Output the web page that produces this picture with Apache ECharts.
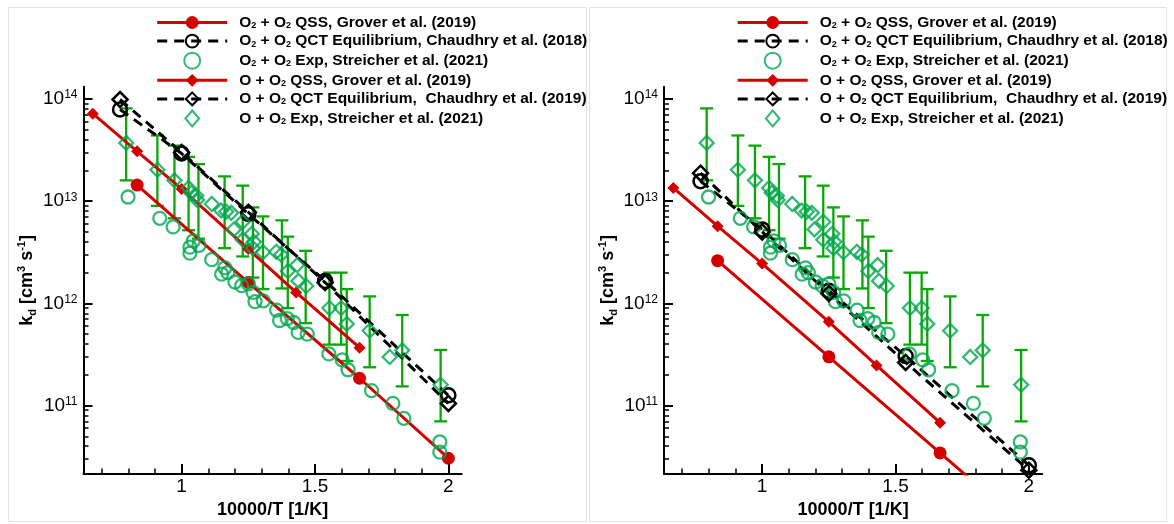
<!DOCTYPE html>
<html><head><meta charset="utf-8">
<script src="https://cdn.jsdelivr.net/npm/echarts@6/dist/echarts.min.js"></script>
<style>html,body{margin:0;padding:0;background:#fff}#c{width:1174px;height:524px}</style>
</head><body><div id="c"></div>
<script>
// ---------- data (x = 10000/T [1/K], y = kd [cm^3 s^-1]) ----------
const qssO2O2X = [0.833, 1.25, 1.667, 2.0];
const qssO2O2Left = [1.44e13, 1.6e12, 1.85e11, 3.05e10];
const qssO2O2Right = [2.62e12, 3.0e11, 3.44e10, 6.1e9];

const qssOO2X = [0.667, 0.833, 1.0, 1.25, 1.429, 1.667];
const qssOO2Left = [7.2e13, 3.08e13, 1.32e13, 3.4e12, 1.28e12, 3.68e11];
const qssOO2Right = [1.35e13, 5.7e12, 2.45e12, 6.6e11, 2.47e11, 6.8e10];

const qctX = [0.769, 1.0, 1.25, 1.538, 2.0];
const qctO2O2Left = [7.9e13, 2.93e13, 7.5e12, 1.66e12, 1.26e11];
const qctOO2Left = [9.9e13, 3.0e13, 7.8e12, 1.6e12, 1.05e11];
const qctO2O2Right = [1.57e13, 5.3e12, 1.33e12, 3.05e11, 2.6e10];
const qctOO2Right = [1.88e13, 5.0e12, 1.25e12, 2.64e11, 2.33e10];

const expO2O2X = [0.799, 0.918, 0.968, 1.044, 1.065, 1.031, 1.031, 1.113, 1.150, 1.162, 1.173, 1.200, 1.225, 1.250, 1.268, 1.275, 1.306, 1.356, 1.367, 1.396, 1.420, 1.437, 1.471, 1.552, 1.602, 1.624, 1.712, 1.792, 1.833, 1.968, 1.968];
const expO2O2Y = [1.10e13, 6.8e12, 5.6e12, 4.1e12, 3.7e12, 3.55e12, 3.1e12, 2.68e12, 1.93e12, 2.23e12, 2.0e12, 1.62e12, 1.49e12, 1.55e12, 1.28e12, 1.04e12, 1.06e12, 8.6e11, 6.8e11, 7.1e11, 6.5e11, 5.2e11, 5.0e11, 3.2e11, 2.8e11, 2.24e11, 1.4e11, 1.05e11, 7.5e10, 4.4e10, 3.5e10];

const expOO2X = [0.792, 0.909, 0.973, 1.026, 1.036, 1.055, 1.058, 1.113, 1.148, 1.167, 1.186, 1.229, 1.196, 1.229, 1.263, 1.271, 1.267, 1.305, 1.355, 1.373, 1.398, 1.433, 1.438, 1.467, 1.554, 1.598, 1.619, 1.705, 1.780, 1.827, 1.971];
const expOO2Y = [3.72e13, 2.03e13, 1.6e13, 1.35e13, 1.21e13, 1.13e13, 1.03e13, 9.4e12, 8.1e12, 7.9e12, 7.7e12, 6.3e12, 5.3e12, 4.2e12, 4.8e12, 4.0e12, 3.47e12, 3.17e12, 3.2e12, 3.0e12, 2.07e12, 2.37e12, 1.66e12, 1.48e12, 9.0e11, 9.0e11, 6.3e11, 5.4e11, 2.99e11, 3.47e11, 1.6e11];

const errX = [0.792, 0.909, 0.973, 1.026, 1.063, 1.161, 1.229, 1.267, 1.305, 1.376, 1.398, 1.465, 1.554, 1.598, 1.619, 1.705, 1.827, 1.971];
const errLow = [1.6e13, 9.0e12, 6.8e12, 5.2e12, 4.3e12, 3.47e12, 2.88e12, 1.79e12, 1.38e12, 1.4e12, 9.0e11, 6.4e11, 3.95e11, 3.95e11, 2.73e11, 2.37e11, 1.54e11, 7.0e10];
const errHigh = [8.1e13, 4.4e13, 3.5e13, 2.72e13, 2.31e13, 1.75e13, 1.42e13, 8.7e12, 7.1e12, 6.5e12, 4.5e12, 3.27e12, 2.0e12, 2.0e12, 1.38e12, 1.17e12, 7.7e11, 3.5e11];

const xMajorTicks = [1, 1.5, 2];
const xMinorTicks = [0.7, 0.8, 0.9, 1.1, 1.2, 1.3, 1.4, 1.6, 1.7, 1.8, 1.9];
const yMajorTicks = [1e11, 1e12, 1e13, 1e14];
const yMinorTicks = [3e10, 4e10, 5e10, 6e10, 7e10, 8e10, 9e10,
  2e11, 3e11, 4e11, 5e11, 6e11, 7e11, 8e11, 9e11,
  2e12, 3e12, 4e12, 5e12, 6e12, 7e12, 8e12, 9e12,
  2e13, 3e13, 4e13, 5e13, 6e13, 7e13, 8e13, 9e13];

const legendNames = [
  'O2 + O2 QSS, Grover et al. (2019)',
  'O2 + O2 QCT Equilibrium, Chaudhry et al. (2018)',
  'O2 + O2 Exp, Streicher et al. (2021)',
  'O + O2 QSS, Grover et al. (2019)',
  'O + O2 QCT Equilibrium,  Chaudhry et al. (2019)',
  'O + O2 Exp, Streicher et al. (2021)'
];
const legendRich = [
  'O{s|2} + O{s|2} QSS, Grover et al. (2019)',
  'O{s|2} + O{s|2} QCT Equilibrium, Chaudhry et al. (2018)',
  'O{s|2} + O{s|2} Exp, Streicher et al. (2021)',
  'O + O{s|2} QSS, Grover et al. (2019)',
  'O + O{s|2} QCT Equilibrium,  Chaudhry et al. (2019)',
  'O + O{s|2} Exp, Streicher et al. (2021)'
];

// ---------- styling ----------
const FONT = '"Liberation Sans", Arial, Helvetica, sans-serif';
const RED = '#d40000';
const GREEN = '#00a650';
const BARGREEN = '#0aa60a';
const DIAMOND_PATH = 'path://M7,0L13,7L7,14L1,7Z';
const X_MIN = 0.632, X_MAX = 2.05;
const Y_MIN = 2.133e10, Y_MAX = 1.321e14;
const grids = [
  { left: 83.5, top: 86.7, width: 378.2, height: 395.6 },
  { left: 664, top: 86.7, width: 378.2, height: 395.6 }
];

function zip(xs, ys) { return xs.map((x, i) => [x, ys[i]]); }

const xAxes = [], yAxes = [], series = [], legends = [];
grids.forEach((g, p) => {
  xAxes.push({
    type: 'value', gridIndex: p, position: 'bottom', min: X_MIN, max: X_MAX,
    axisLine: { show: true, onZero: false, lineStyle: { color: '#000', width: 2 } },
    axisTick: { show: true, inside: true, length: 10, customValues: xMajorTicks, lineStyle: { color: '#000', width: 2 } },
    axisLabel: { show: true, customValues: xMajorTicks, margin: 3, color: '#000', fontFamily: FONT, fontSize: 19,
      formatter: v => String(v) },
    splitLine: { show: false },
    name: '10000/T [1/K]', nameLocation: 'middle', nameGap: 22,
    nameTextStyle: { color: '#000', fontFamily: FONT, fontSize: 18, fontWeight: 'bold' }
  });
  xAxes.push({
    type: 'value', gridIndex: p, position: 'bottom', min: X_MIN, max: X_MAX,
    axisLine: { show: false }, axisLabel: { show: false }, splitLine: { show: false },
    axisTick: { show: true, inside: true, length: 5.5, customValues: xMinorTicks, lineStyle: { color: '#000', width: 1.5 } }
  });
  yAxes.push({
    type: 'log', gridIndex: p, position: 'left', min: Y_MIN, max: Y_MAX,
    axisLine: { show: true, onZero: false, lineStyle: { color: '#000', width: 2 } },
    axisTick: { show: true, inside: true, length: 9, customValues: yMajorTicks, lineStyle: { color: '#000', width: 2 } },
    axisLabel: { show: true, customValues: yMajorTicks, margin: 6,
      formatter: v => '{b|10}{e|' + Math.round(Math.log10(v)) + '}',
      rich: {
        b: { fontFamily: FONT, fontSize: 19, color: '#000', lineHeight: 20 },
        e: { fontFamily: FONT, fontSize: 12, color: '#000', lineHeight: 8, verticalAlign: 'top' }
      } },
    splitLine: { show: false },
    name: '{n|k}{d|d}{n| [cm}{u|3}{n| s}{u|-1}{n|]}', nameLocation: 'middle', nameGap: 45, nameRotate: 90,
    nameTextStyle: { rich: {
      n: { fontFamily: FONT, fontSize: 18, fontWeight: 'bold', color: '#000', lineHeight: 22 },
      d: { fontFamily: FONT, fontSize: 11, fontWeight: 'bold', color: '#000', lineHeight: 6, verticalAlign: 'bottom' },
      u: { fontFamily: FONT, fontSize: 11, fontWeight: 'bold', color: '#000', lineHeight: 6, verticalAlign: 'top' }
    } }
  });
  yAxes.push({
    type: 'log', gridIndex: p, position: 'left', min: Y_MIN, max: Y_MAX,
    axisLine: { show: false }, axisLabel: { show: false }, splitLine: { show: false },
    axisTick: { show: true, inside: true, length: 5, customValues: yMinorTicks, lineStyle: { color: '#000', width: 1.5 } }
  });

  const xi = p * 2, yi = p * 2;
  const left = p === 0;
  series.push({
    name: legendNames[0], type: 'line', xAxisIndex: xi, yAxisIndex: yi,
    data: zip(qssO2O2X, left ? qssO2O2Left : qssO2O2Right),
    symbol: 'circle', symbolSize: 13, showSymbol: true,
    lineStyle: { color: RED, width: 3 }, itemStyle: { color: RED, borderWidth: 0 }, z: 3
  });
  series.push({
    name: legendNames[1], type: 'line', xAxisIndex: xi, yAxisIndex: yi,
    data: zip(qctX, left ? qctO2O2Left : qctO2O2Right),
    symbol: 'circle', symbolSize: 14, showSymbol: true,
    lineStyle: { color: '#000', width: 3, type: [10, 7] },
    itemStyle: { color: 'rgba(255,255,255,0)', borderColor: '#000', borderWidth: 2.5 }, z: 3
  });
  series.push({
    name: legendNames[2], type: 'scatter', xAxisIndex: xi, yAxisIndex: yi,
    data: zip(expO2O2X, expO2O2Y),
    symbol: 'circle', symbolSize: 13,
    itemStyle: { color: 'rgba(255,255,255,0)', borderColor: GREEN, borderWidth: 2.3 }, z: 3
  });
  series.push({
    name: legendNames[3], type: 'line', xAxisIndex: xi, yAxisIndex: yi,
    data: zip(qssOO2X, left ? qssOO2Left : qssOO2Right),
    symbol: 'diamond', symbolSize: 12, showSymbol: true,
    lineStyle: { color: RED, width: 3 }, itemStyle: { color: RED, borderWidth: 0 }, z: 3
  });
  series.push({
    name: legendNames[4], type: 'line', xAxisIndex: xi, yAxisIndex: yi,
    data: zip(qctX, left ? qctOO2Left : qctOO2Right),
    symbol: 'diamond', symbolSize: 15, showSymbol: true,
    lineStyle: { color: '#000', width: 3, type: [10, 7] },
    itemStyle: { color: 'rgba(255,255,255,0)', borderColor: '#000', borderWidth: 2.5 }, z: 3
  });
  series.push({
    name: 'errbars' + p, type: 'custom', xAxisIndex: xi, yAxisIndex: yi,
    data: errX.map((x, i) => [x, errLow[i], errHigh[i]]),
    encode: { x: 0, y: [1, 2] }, z: 3,
    renderItem: function (params, api) {
      const x = api.value(0);
      const lo = api.coord([x, api.value(1)]);
      const hi = api.coord([x, api.value(2)]);
      const w = 6.5;
      const st = { stroke: BARGREEN, lineWidth: 2.3 };
      return { type: 'group', children: [
        { type: 'line', shape: { x1: lo[0], y1: lo[1], x2: hi[0], y2: hi[1] }, style: st },
        { type: 'line', shape: { x1: lo[0] - w, y1: lo[1], x2: lo[0] + w, y2: lo[1] }, style: st },
        { type: 'line', shape: { x1: hi[0] - w, y1: hi[1], x2: hi[0] + w, y2: hi[1] }, style: st }
      ] };
    }
  });
  series.push({
    name: legendNames[5], type: 'scatter', xAxisIndex: xi, yAxisIndex: yi,
    data: zip(expOO2X, expOO2Y),
    symbol: 'diamond', symbolSize: 14,
    itemStyle: { color: 'rgba(255,255,255,0)', borderColor: GREEN, borderWidth: 2.3 }, z: 3
  });

  legends.push({
    left: g.left + 72.2, top: 14.5, orient: 'vertical', padding: 0,
    itemWidth: 70, itemHeight: 16, itemGap: 2.6, selectedMode: false, symbolKeepAspect: true,
    lineStyle: { width: 3 },
    data: legendNames.map((n, i) => i === 5 ? { name: n, icon: DIAMOND_PATH } : n),
    formatter: name => legendRich[legendNames.indexOf(name)],
    textStyle: { fontFamily: FONT, fontSize: 15.5, fontWeight: 'bold', color: '#000', lineHeight: 15,
      padding: [0, 0, 0, 7],
      rich: { s: { fontFamily: FONT, fontSize: 9, fontWeight: 'bold', color: '#000', lineHeight: 3, verticalAlign: 'bottom' } } }
  });
});

const chart = echarts.init(document.getElementById('c'), null, { renderer: 'canvas' });
chart.setOption({
  backgroundColor: '#fff',
  animation: false,
  grid: grids,
  xAxis: xAxes,
  yAxis: yAxes,
  legend: legends,
  series: series,
  graphic: [
    { type: 'rect', shape: { x: 8.5, y: 7.5, width: 578, height: 514 }, style: { fill: 'none', stroke: '#e2e2e2', lineWidth: 1 }, silent: true },
    { type: 'rect', shape: { x: 589.5, y: 7.5, width: 577, height: 514 }, style: { fill: 'none', stroke: '#e2e2e2', lineWidth: 1 }, silent: true }
  ]
});
</script></body></html>
